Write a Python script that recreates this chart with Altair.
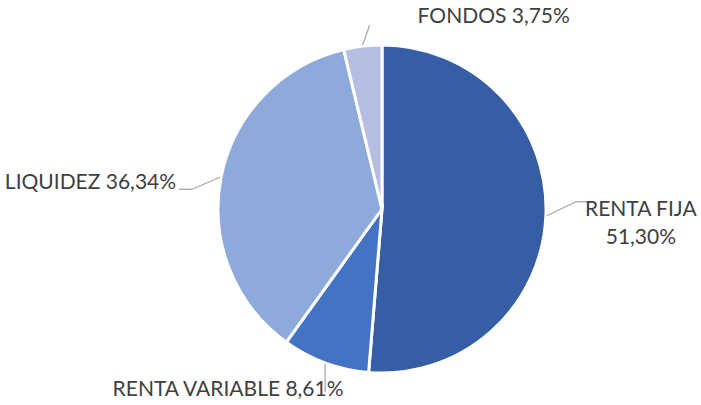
import altair as alt
import pandas as pd

categories = ["RENTA FIJA", "RENTA VARIABLE", "LIQUIDEZ", "FONDOS"]
values = [51.30, 8.61, 36.34, 3.75]
colors = ["#365EA5", "#4472C4", "#8EAADB", "#B4BEE0"]
labels = [["RENTA FIJA", "51,30%"], ["RENTA VARIABLE 8,61%"], ["LIQUIDEZ 36,34%"], ["FONDOS 3,75%"]]

df = pd.DataFrame({
    "cat": categories,
    "val": values,
    "ord": list(range(len(categories))),
    "label": labels,
})

CX, CY, R = 382, 209, 164

# per-label layout style: elbow offset, tail length, text offset, alignment
style = {
    "RENTA FIJA": dict(ex=29, ey=-14, tail=15, tx=94, ty=-6, align="center"),
    "RENTA VARIABLE": dict(ex=0, ey=28, tail=0, tx=-97, ty=26, align="center"),
    "LIQUIDEZ": dict(ex=-28, ey=12, tail=-13, tx=-44, ty=6, align="right"),
    "FONDOS": dict(ex=7, ey=-20, tail=0, tx=55, ty=-28, align="left"),
}

base = alt.Chart(df).transform_window(
    cum="sum(val)", sort=[alt.SortField("ord")]
).transform_joinaggregate(
    total="sum(val)"
).transform_calculate(
    mid="2*PI*(datum.cum - datum.val/2)/datum.total",
    px=f"{CX} + {R+1}*sin(datum.mid)",
    py=f"{CY} - {R+1}*cos(datum.mid)",
)

pie = alt.Chart(df).mark_arc(radius=R, stroke="white", strokeWidth=3).encode(
    theta=alt.Theta("val:Q", stack=True),
    order=alt.Order("ord:Q"),
    color=alt.Color("cat:N", scale=alt.Scale(domain=categories, range=colors), legend=None),
    x=alt.value(CX),
    y=alt.value(CY),
)

layers = [pie]
for cat in categories:
    s = style[cat]
    b = base.transform_filter(alt.datum.cat == cat).transform_calculate(
        qx=f"datum.px + {s['ex']}",
        qy=f"datum.py + {s['ey']}",
        rx=f"datum.px + {s['ex'] + s['tail']}",
        tx=f"datum.px + {s['tx']}",
        ty=f"datum.py + {s['ty']}",
    )
    layers.append(b.mark_rule(color="#A6A6A6", strokeWidth=1.3).encode(
        x=alt.X("px:Q", scale=None, axis=None), y=alt.Y("py:Q", scale=None, axis=None),
        x2="qx:Q", y2="qy:Q"))
    if s["tail"] != 0:
        layers.append(b.mark_rule(color="#A6A6A6", strokeWidth=1.3).encode(
            x=alt.X("qx:Q", scale=None, axis=None), y=alt.Y("qy:Q", scale=None, axis=None),
            x2="rx:Q", y2="qy:Q"))
    layers.append(b.mark_text(font="Lato", fontSize=21, color="#404040", align=s["align"],
                              baseline="middle", lineHeight=28).encode(
        x=alt.X("tx:Q", scale=None, axis=None), y=alt.Y("ty:Q", scale=None, axis=None),
        text="label"))

chart = alt.layer(*layers).properties(
    width=701, height=405, autosize=alt.AutoSizeParams(type="none"), padding=0
).configure_view(stroke=None)

chart.save("out.html", embed_options={"renderer": "svg", "actions": False})
